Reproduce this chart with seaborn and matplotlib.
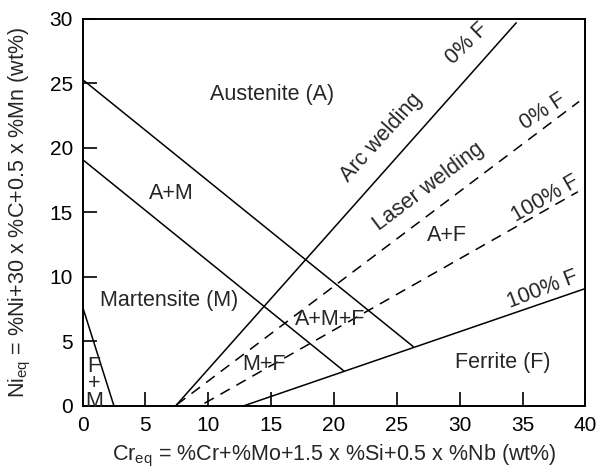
import pandas as pd
import matplotlib.pyplot as plt
import seaborn as sns

sns.set_style('ticks')
plt.rcParams['font.family'] = ['Liberation Sans', 'DejaVu Sans']

# phase boundaries: (Cr_eq, Ni_eq) end points
boundary_names = ['A/A+M', 'A+M/M', 'F+M', 'arc 0% F', 'laser 0% F', 'laser 100% F', 'arc 100% F']
boundary_cr = [[0, 26.3], [0, 20.8], [0, 2.5], [7.4, 34.5], [7.5, 39.5], [9.7, 39.4], [12.8, 40]]
boundary_ni = [[25.3, 4.6], [19.1, 2.7], [7.7, 0], [0, 29.7], [0.1, 23.6], [0.2, 16.6], [0, 9.1]]
boundary_dash = [False, False, False, False, True, True, False]

# region / line labels
label_text = ['Austenite (A)', 'A+M', 'Martensite (M)', 'F\n+\nM', 'M+F', 'A+M+F', 'A+F', 'Ferrite (F)',
              'Arc welding', '0% F', 'Laser welding', '0% F', '100% F', '100% F']
label_x = [15.1, 7.1, 6.9, 0.9, 14.4, 19.7, 29.0, 33.4, 23.8, 30.6, 27.5, 36.6, 36.8, 36.6]
label_y = [24.1, 16.5, 8.2, 1.7, 3.2, 6.7, 13.2, 3.4, 20.8, 28.1, 17.0, 22.8, 16.1, 9.0]
label_rot = [0, 0, 0, 0, 0, 0, 0, 0, 48, 44, 37, 33, 30, 21]

fig = plt.figure(figsize=(5.98, 4.72), dpi=100)
ax = fig.add_axes([0.138, 0.14, 0.841, 0.82])

for name, xs, ys, dash in zip(boundary_names, boundary_cr, boundary_ni, boundary_dash):
    df = pd.DataFrame({'cr': xs, 'ni': ys})
    sns.lineplot(data=df, x='cr', y='ni', ax=ax, color='black', lw=1.1,
                 linestyle=(0, (7, 5)) if dash else '-', estimator=None, sort=False)

for t, x, y, r in zip(label_text, label_x, label_y, label_rot):
    ax.text(x, y, t, rotation=r, ha='center', va='center', fontsize=15.5,
            linespacing=0.8, rotation_mode='anchor')

ax.set_xlim(0, 40)
ax.set_ylim(0, 30)
ax.set_xticks(range(0, 41, 5))
ax.set_yticks(range(0, 31, 5))
ax.tick_params(direction='in', length=10, width=1.2, labelsize=15, pad=7, colors='black')
for s in ax.spines.values():
    s.set_linewidth(1.4)
    s.set_color('black')
ax.set_xlabel('Cr$_{\\mathregular{eq}}$ = %Cr+%Mo+1.5 x %Si+0.5 x %Nb (wt%)', fontsize=15.5, labelpad=6)
ax.set_ylabel('Ni$_{\\mathregular{eq}}$ = %Ni+30 x %C+0.5 x %Mn (wt%)', fontsize=15.5, labelpad=12)

fig.savefig('out.png', dpi=100)
